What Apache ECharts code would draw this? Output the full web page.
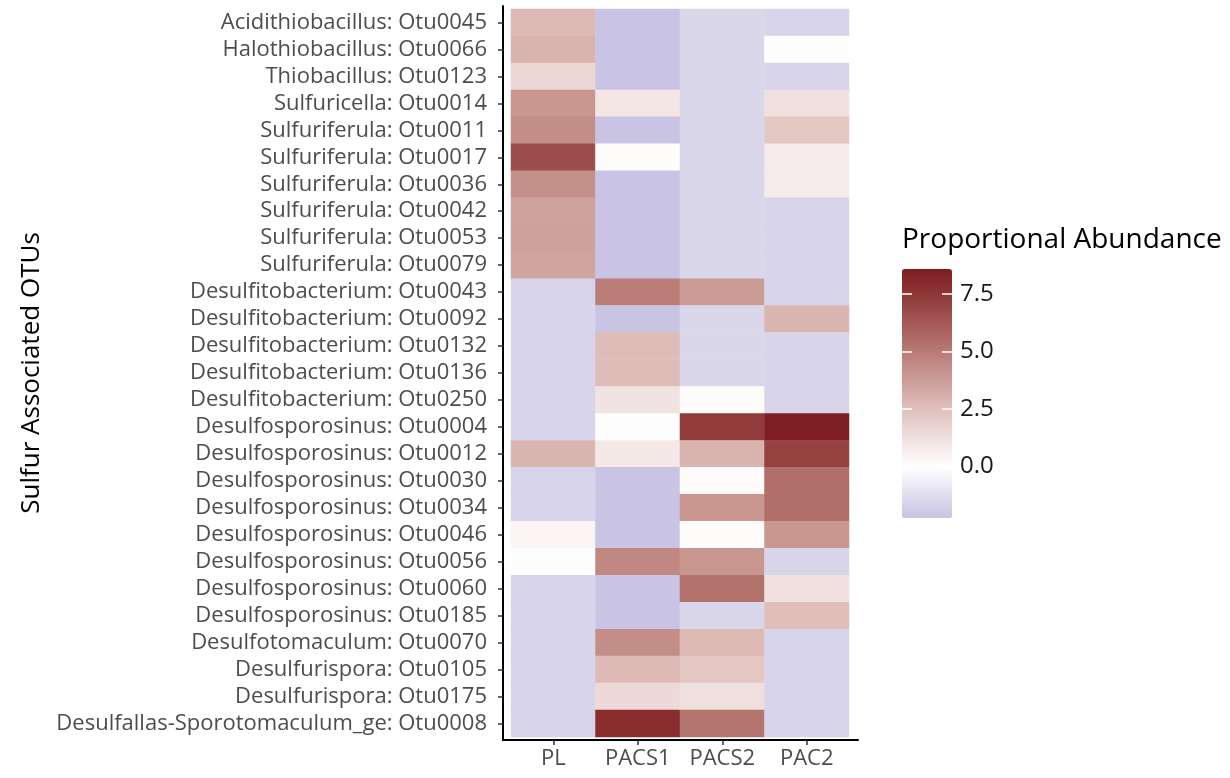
<!DOCTYPE html>
<html><head><meta charset="utf-8">
<script src="https://cdn.jsdelivr.net/npm/echarts@6/dist/echarts.min.js"></script>
<style>html,body{margin:0;padding:0;background:#fff}#c{width:1230px;height:778px}</style>
</head><body><div id="c"></div>
<script>
const samples = ['PL', 'PACS1', 'PACS2', 'PAC2'];
const otus = [
  'Acidithiobacillus: Otu0045', 'Halothiobacillus: Otu0066', 'Thiobacillus: Otu0123',
  'Sulfuricella: Otu0014', 'Sulfuriferula: Otu0011', 'Sulfuriferula: Otu0017',
  'Sulfuriferula: Otu0036', 'Sulfuriferula: Otu0042', 'Sulfuriferula: Otu0053',
  'Sulfuriferula: Otu0079', 'Desulfitobacterium: Otu0043', 'Desulfitobacterium: Otu0092',
  'Desulfitobacterium: Otu0132', 'Desulfitobacterium: Otu0136', 'Desulfitobacterium: Otu0250',
  'Desulfosporosinus: Otu0004', 'Desulfosporosinus: Otu0012', 'Desulfosporosinus: Otu0030',
  'Desulfosporosinus: Otu0034', 'Desulfosporosinus: Otu0046', 'Desulfosporosinus: Otu0056',
  'Desulfosporosinus: Otu0060', 'Desulfosporosinus: Otu0185', 'Desulfotomaculum: Otu0070',
  'Desulfurispora: Otu0105', 'Desulfurispora: Otu0175', 'Desulfallas-Sporotomaculum_ge: Otu0008'
];
const PL    = [2.7, 2.95, 1.6, 4.0, 4.3, 6.7, 4.2, 3.55, 3.6, 3.5, -1.65, -1.65, -1.65, -1.65, -1.65, -1.65, 2.85, -1.65, -1.65, 0.35, -0.05, -1.65, -1.65, -1.65, -1.65, -1.65, -1.65];
const PACS1 = [-2.2, -2.2, -2.2, 0.95, -2.2, 0.15, -2.2, -2.2, -2.2, -2.2, 4.9, -2.2, 2.6, 2.6, 1.1, -0.05, 0.85, -2.2, -2.2, -2.2, 4.5, -2.2, -2.2, 4.3, 2.7, 1.45, 7.9];
const PACS2 = [-1.5, -1.5, -1.5, -1.5, -1.5, -1.5, -1.5, -1.5, -1.5, -1.5, 3.8, -1.5, -1.5, -1.5, 0.15, 7.3, 2.95, 0.2, 4.0, 0.15, 4.0, 5.3, -1.5, 2.7, 2.2, 1.25, 5.2];
const PAC2  = [-1.6, 0, -1.6, 1.2, 2.15, 0.8, 0.8, -1.6, -1.6, -1.6, -1.6, 2.85, -1.6, -1.6, -1.6, 8.45, 7.1, 5.4, 5.4, 4.0, -1.6, 1.2, 2.5, -1.6, -1.6, -1.6, -1.6];
const legendTicks = [0, 2.5, 5.0, 7.5];
const scaleMin = -2.25, scaleMax = 8.58;

const columns = [PL, PACS1, PACS2, PAC2];
const data = [];
columns.forEach((col, xi) => col.forEach((v, yi) => data.push([xi, yi, v])));

// colour stops (value -> rgb), interpolated into an evenly spaced palette
const stops = [
  [-2.25, [200, 195, 226]],
  [0, [255, 255, 255]],
  [2.5, [224, 191, 187]],
  [5.0, [185, 122, 116]],
  [7.5, [142, 54, 54]],
  [8.58, [126, 28, 32]]
];
function colorAt(v) {
  for (let i = 0; i < stops.length - 1; i++) {
    const [a, ca] = stops[i], [b, cb] = stops[i + 1];
    if (v <= b || i === stops.length - 2) {
      const t = Math.max(0, Math.min(1, (v - a) / (b - a)));
      const c = ca.map((x, k) => Math.round(x + (cb[k] - x) * t));
      return 'rgb(' + c.join(',') + ')';
    }
  }
}
const palette = [];
const N = 60;
for (let i = 0; i <= N; i++) palette.push(colorAt(scaleMin + (scaleMax - scaleMin) * i / N));

const FONT = 'Open Sans';
const chart = echarts.init(document.getElementById('c'), null, { renderer: 'canvas' });
chart.setOption({
  backgroundColor: '#fff',
  animation: false,
  textStyle: { fontFamily: FONT },
  title: {
    text: 'Proportional Abundance', left: 897, top: 221,
    textStyle: { fontFamily: FONT, fontSize: 28, fontWeight: 'normal', color: '#000' }
  },
  grid: [
    { left: 511, right: 381, top: 9, bottom: 41 },
    { left: 503, right: 372, top: 6, bottom: 38 },
    { left: 902, top: 269, width: 50, height: 249 }
  ],
  visualMap: {
    type: 'continuous', min: scaleMin, max: scaleMax, calculable: false,
    seriesIndex: 0, dimension: 2,
    left: 902, top: 269, itemWidth: 50, itemHeight: 249, padding: 0,
    inRange: { color: palette }, hoverLink: false
  },
  xAxis: [
    { gridIndex: 0, type: 'category', data: samples, offset: 3,
      axisLine: { show: false }, splitLine: { show: false },
      axisTick: { show: true, alignWithLabel: true, interval: 0, length: 5, lineStyle: { color: '#333', width: 1.5 } },
      axisLabel: { interval: 0, margin: 8, fontSize: 22, color: '#4d4d4d', fontFamily: FONT } },
    { gridIndex: 1, type: 'value', min: 0, max: 1,
      axisLine: { show: true, lineStyle: { color: '#000', width: 2 } },
      axisTick: { show: false }, axisLabel: { show: false }, splitLine: { show: false } },
    { gridIndex: 2, type: 'category', data: ['a'], show: false }
  ],
  yAxis: [
    { gridIndex: 0, type: 'category', data: otus, inverse: true, offset: 8,
      axisLine: { show: false }, splitLine: { show: false },
      axisTick: { show: true, alignWithLabel: true, interval: 0, length: 5, lineStyle: { color: '#333', width: 1.5 } },
      axisLabel: { interval: 0, margin: 16, fontSize: 22, color: '#4d4d4d', fontFamily: FONT } },
    { gridIndex: 1, type: 'value', min: 0, max: 1,
      name: 'Sulfur Associated OTUs', nameLocation: 'middle', nameGap: 458,
      nameTextStyle: { fontSize: 26, color: '#000', fontFamily: FONT },
      axisLine: { show: true, lineStyle: { color: '#000', width: 2 } },
      axisTick: { show: false }, axisLabel: { show: false }, splitLine: { show: false } },
    { gridIndex: 2, type: 'value', min: scaleMin, max: scaleMax, position: 'left', z: 10,
      axisLine: { show: false }, splitLine: { show: false }, axisLabel: { show: false },
      axisTick: { show: true, inside: true, length: 10, customValues: legendTicks,
                  lineStyle: { color: '#fff', width: 1.5 } } },
    { gridIndex: 2, type: 'value', min: scaleMin, max: scaleMax, position: 'right', z: 10,
      axisLine: { show: false }, splitLine: { show: false },
      axisTick: { show: true, inside: true, length: 10, customValues: legendTicks,
                  lineStyle: { color: '#fff', width: 1.5 } },
      axisLabel: { show: true, margin: 8, fontSize: 24, color: '#1a1a1a', fontFamily: FONT,
                   customValues: legendTicks, formatter: v => v.toFixed(1) } }
  ],
  series: [{
    type: 'heatmap', xAxisIndex: 0, yAxisIndex: 0, data: data,
    itemStyle: { borderWidth: 0 }, emphasis: { disabled: true }
  }]
});
</script></body></html>
